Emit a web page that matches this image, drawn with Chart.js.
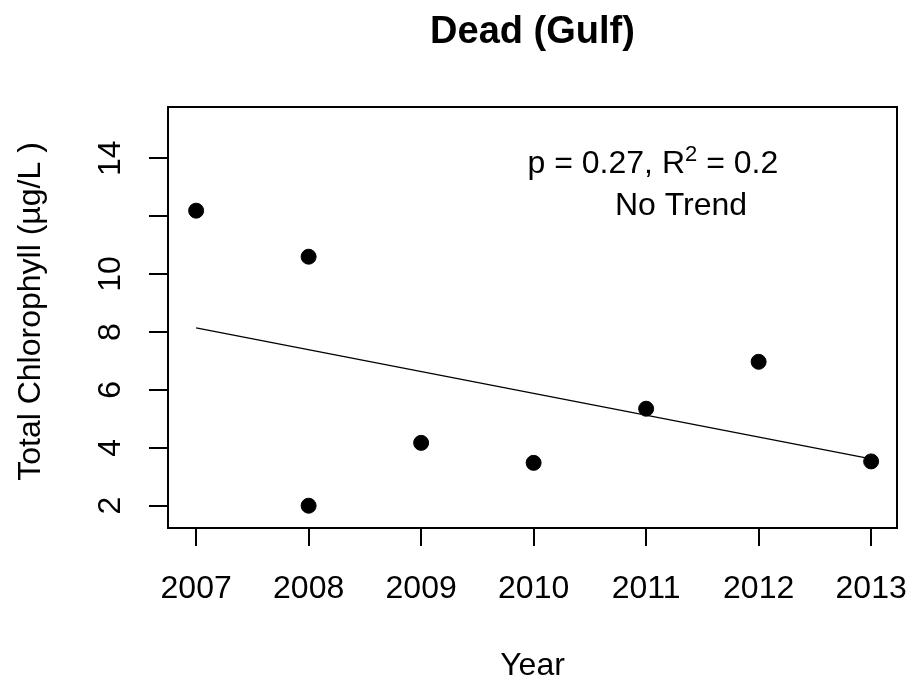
<!DOCTYPE html>
<html>
<head>
<meta charset="utf-8">
<title>Dead (Gulf)</title>
<script src="https://cdn.jsdelivr.net/npm/chart.js@4.4.1/dist/chart.umd.min.js"></script>
<style>
  html, body { margin: 0; padding: 0; background: #fff; }
  canvas { display: block; }
</style>
</head>
<body>
<canvas id="chlChart" width="912" height="682"></canvas>
<script>
// values
const years = [2007, 2008, 2008, 2009, 2010, 2011, 2012, 2013];
const chlorophyll = [12.19, 10.60, 2.00, 4.17, 3.48, 5.35, 6.97, 3.53];
const trendYears = [2007, 2013];
const trendValues = [8.14, 3.62];
const xTickValues = [2007, 2008, 2009, 2010, 2011, 2012, 2013];
const yTickValues = [2, 4, 6, 8, 10, 12, 14];
const yTickLabels = ['2', '4', '6', '8', '10', '', '14']; // R drops the 12 label

const FONT = '"Liberation Sans", Arial, sans-serif';

// base-R look: frame, rotated y labels, plotmath-ish annotation
const rTextPlugin = {
    id: 'rText',
    afterDraw(chart) {
        const ctx = chart.ctx;
        const area = chart.chartArea;
        const xs = chart.scales.x;
        const ys = chart.scales.y;
        const midX = (area.left + area.right) / 2;

        ctx.save();
        ctx.strokeStyle = '#000';
        ctx.lineWidth = 2;
        ctx.strokeRect(area.left, area.top, area.right - area.left, area.bottom - area.top);

        ctx.fillStyle = '#000';
        ctx.textAlign = 'center';
        ctx.textBaseline = 'alphabetic';

        ctx.font = 'bold 38px ' + FONT;
        ctx.fillText('Dead (Gulf)', midX, 43);

        ctx.font = '32px ' + FONT;
        xTickValues.forEach(v => ctx.fillText(String(v), xs.getPixelForValue(v), 598));
        ctx.fillText('Year', midX, 675);

        yTickValues.forEach((v, i) => {
            if (!yTickLabels[i]) return;
            ctx.save();
            ctx.translate(120, ys.getPixelForValue(v));
            ctx.rotate(-Math.PI / 2);
            ctx.fillText(yTickLabels[i], 0, 0);
            ctx.restore();
        });

        ctx.save();
        ctx.translate(40, (area.top + area.bottom) / 2 - 6);
        ctx.rotate(-Math.PI / 2);
        ctx.fillText('Total Chlorophyll (\u00b5g/L )', 0, 0);
        ctx.restore();

        // "p = 0.27, R^2 = 0.2"
        const parts = [
            { t: 'p = 0.27, R', size: 32, rise: 0 },
            { t: '2', size: 22, rise: 12 },
            { t: ' = 0.2', size: 32, rise: 0 }
        ];
        let total = 0;
        parts.forEach(p => {
            ctx.font = p.size + 'px ' + FONT;
            p.w = ctx.measureText(p.t).width;
            total += p.w;
        });
        let px = xs.getPixelForValue(2011.06) - total / 2;
        const base1 = ys.getPixelForValue(13.49);
        ctx.textAlign = 'left';
        parts.forEach(p => {
            ctx.font = p.size + 'px ' + FONT;
            ctx.fillText(p.t, px, base1 - p.rise);
            px += p.w;
        });

        ctx.textAlign = 'center';
        ctx.font = '32px ' + FONT;
        ctx.fillText('No Trend', xs.getPixelForValue(2011.31), ys.getPixelForValue(12.04));
        ctx.restore();
    }
};

const ctx = document.getElementById('chlChart').getContext('2d');

new Chart(ctx, {
    type: 'scatter',
    data: {
        datasets: [
            {
                label: 'Total Chlorophyll',
                data: years.map((yr, i) => ({ x: yr, y: chlorophyll[i] })),
                backgroundColor: '#000',
                borderColor: '#000',
                pointRadius: 7.5,
                pointHoverRadius: 7.5,
                showLine: false
            },
            {
                label: 'Trend',
                data: trendYears.map((yr, i) => ({ x: yr, y: trendValues[i] })),
                borderColor: '#000',
                borderWidth: 1.3,
                pointRadius: 0,
                showLine: true,
                fill: false
            }
        ]
    },
    options: {
        responsive: false,
        animation: false,
        events: [],
        layout: { padding: { top: 107, right: 15, left: 0, bottom: 0 } },
        plugins: {
            legend: { display: false },
            tooltip: { enabled: false }
        },
        scales: {
            x: {
                type: 'linear',
                min: 2006.75,
                max: 2013.23,
                afterBuildTicks: scale => { scale.ticks = xTickValues.map(v => ({ value: v })); },
                afterFit: scale => { scale.height = 154; },
                ticks: { display: false },
                grid: { drawOnChartArea: false, drawTicks: true, tickLength: 18, color: '#000', lineWidth: 2 },
                border: { display: true, color: '#000', width: 2 }
            },
            y: {
                type: 'linear',
                min: 1.23,
                max: 15.77,
                afterBuildTicks: scale => { scale.ticks = yTickValues.map(v => ({ value: v })); },
                afterFit: scale => { scale.width = 168; },
                ticks: { display: false },
                grid: { drawOnChartArea: false, drawTicks: true, tickLength: 19, color: '#000', lineWidth: 2 },
                border: { display: true, color: '#000', width: 2 }
            }
        }
    },
    plugins: [rTextPlugin]
});
</script>
</body>
</html>
